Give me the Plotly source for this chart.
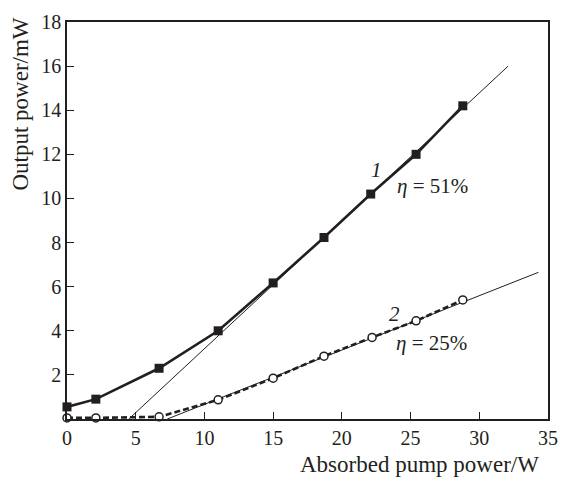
import plotly.graph_objects as go

# Data
x1 = [0.0, 2.1, 6.7, 11.0, 15.0, 18.7, 22.1, 25.4, 28.8]
y1 = [0.55, 0.9, 2.3, 4.0, 6.17, 8.23, 10.2, 12.0, 14.2]
x2 = [0.0, 2.1, 6.7, 11.0, 15.0, 18.7, 22.2, 25.4, 28.8]
y2 = [0.05, 0.05, 0.1, 0.87, 1.85, 2.85, 3.7, 4.45, 5.4]
fit1_x = [4.5, 32.1]
fit1_y = [0.0, 16.0]
fit2_x = [7.3, 34.3]
fit2_y = [0.0, 6.65]
xticks = [0, 5, 10, 15, 20, 25, 30, 35]
yticks = [2, 4, 6, 8, 10, 12, 14, 16, 18]

FONT = "Times New Roman, Liberation Serif, serif"
INK = "#231f20"

fig = go.Figure()
fig.add_trace(go.Scatter(x=fit1_x, y=fit1_y, mode="lines",
                         line=dict(color=INK, width=1), showlegend=False, cliponaxis=False))
fig.add_trace(go.Scatter(x=fit2_x, y=fit2_y, mode="lines",
                         line=dict(color=INK, width=1), showlegend=False, cliponaxis=False))
fig.add_trace(go.Scatter(x=x1, y=y1, mode="lines+markers",
                         line=dict(color=INK, width=2.6),
                         marker=dict(symbol="square", size=9, color=INK),
                         showlegend=False, cliponaxis=False))
fig.add_trace(go.Scatter(x=x2, y=y2, mode="lines",
                         line=dict(color=INK, width=2.6, dash="6px,3px"),
                         showlegend=False, cliponaxis=False))
fig.add_trace(go.Scatter(x=x2, y=y2, mode="markers",
                         marker=dict(symbol="circle", size=8, color="white",
                                     line=dict(color=INK, width=1.5)),
                         showlegend=False, cliponaxis=False))

axis_common = dict(showgrid=False, zeroline=False, showline=True, linecolor=INK,
                   linewidth=1.5, mirror=True, ticks="inside", ticklen=7,
                   tickcolor=INK, tickwidth=1.2,
                   tickfont=dict(family=FONT, size=20, color=INK))
fig.update_xaxes(range=[0, 35], tickvals=xticks, ticktext=[str(v) for v in xticks], **axis_common)
fig.update_yaxes(range=[0, 18], tickvals=yticks, ticktext=[str(v) for v in yticks], **axis_common)

fig.add_annotation(text="Output power/mW", xref="paper", yref="paper", x=-0.096, y=1.017,
                   xanchor="center", yanchor="top", textangle=-90, showarrow=False,
                   font=dict(family=FONT, size=23, color=INK))
fig.add_annotation(text="Absorbed pump power/W", xref="paper", yref="paper", x=0.986, y=-0.115,
                   xanchor="right", yanchor="middle", showarrow=False,
                   font=dict(family=FONT, size=23, color=INK))
fig.add_annotation(text="<i>1</i>", x=22.5, y=11.27, showarrow=False,
                   font=dict(family=FONT, size=21, color=INK))
fig.add_annotation(text="<i>η</i> = 51%", x=26.6, y=10.56, showarrow=False,
                   font=dict(family=FONT, size=21, color=INK))
fig.add_annotation(text="<i>2</i>", x=23.86, y=4.74, showarrow=False,
                   font=dict(family=FONT, size=21, color=INK))
fig.add_annotation(text="<i>η</i> = 25%", x=26.5, y=3.45, showarrow=False,
                   font=dict(family=FONT, size=21, color=INK))

fig.update_layout(width=569, height=486, margin=dict(l=67, r=11, t=17, b=67),
                  plot_bgcolor="white", paper_bgcolor="white")
fig.write_html("out.html")
